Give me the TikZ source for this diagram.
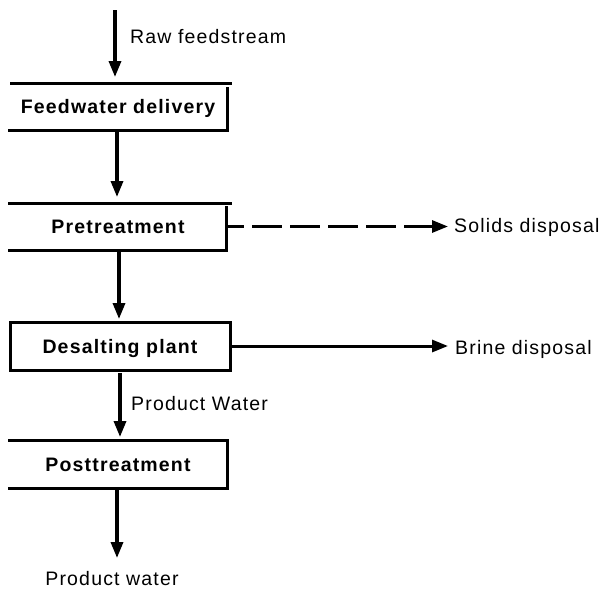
\documentclass[tikz,border=0pt]{standalone}
\usepackage{fontspec}
\newfontfamily\labfont[LetterSpace=6]{Liberation Sans}
\usetikzlibrary{arrows.meta}
\tikzset{
  lab/.style={font=\labfont\fontsize{19.5}{21}\selectfont, inner sep=0pt},
  boxnode/.style={lab, font=\labfont\bfseries\fontsize{19.5}{21}\selectfont,
     minimum width=220pt, minimum height=47pt, inner sep=0pt, outer sep=0pt,
     text height=14pt, text depth=0pt},
  edge/.style={line width=3pt},
  flow/.style={line width=3.4pt, -{Triangle[length=16pt,width=12pt]}},
}
\begin{document}
\begin{tikzpicture}[x=1pt,y=-1pt]
\useasboundingbox (0,0) rectangle (614,590);
% boxes
\node[boxnode] (f) at (118,106.5) {Feedwater delivery};
\node[boxnode] (p) at (118,226.5) {Pretreatment};
\node[boxnode,minimum height=48pt] (d) at (120,346) {Desalting plant};
\node[boxnode,minimum height=48pt] (q) at (118,464) {Posttreatment};
% box outlines
\draw[edge] ([xshift=2pt]f.north west) -- ([xshift=4pt]f.north east);
\draw[edge] ([xshift=-1pt,yshift=-4pt]f.north east) -- ([xshift=-1pt]f.south east) -- (f.south west);
\draw[edge] (p.north west) -- ([xshift=4pt]p.north east);
\draw[edge] ([xshift=-2pt,yshift=-3pt]p.north east) -- ([xshift=-2pt]p.south east) -- (p.south west);
\draw[edge] (d.north west) rectangle (d.south east);
\draw[edge] (q.north west) -- ([xshift=-1pt]q.north east) -- ([xshift=-1pt]q.south east) -- (q.south west);
% labels
\coordinate (rawtop) at (115,10);
\node[lab, anchor=base west] (rawlab) at (130,43) {Raw feedstream};
\node[lab, anchor=base west] (solids) at (454,232) {Solids disposal};
\node[lab, anchor=base west] (brine) at (455,354) {Brine disposal};
\node[lab, anchor=base west] (pwlab) at (131,410) {Product Water};
\coordinate (outtip) at (117,558);
\node[lab, anchor=base] (pwout) at (112,585) {Product water};
% flows
\draw[flow, shorten >=6pt] (rawtop) -- (rawtop |- f.north);
\draw[flow, shorten >=6pt] ([xshift=-1pt]f.south) -- ([xshift=-1pt]f.south |- p.north);
\draw[flow, shorten >=3pt] ([xshift=1pt]p.south) -- ([xshift=1pt]p.south |- d.north);
\draw[flow, shorten >=3pt, shorten <=3pt] (d.south) -- (d.south |- q.north);
\draw[flow] ([xshift=-1pt]q.south) -- (outtip);
\draw[flow, line width=3pt, dash pattern=on 30pt off 8pt, dash phase=12pt] ([xshift=-2pt]p.east) -- ([xshift=-6pt]solids.west |- p.east);
\draw[flow, line width=3pt] (d.east) -- ([xshift=-7pt]brine.west |- d.east);
\end{tikzpicture}
\end{document}
